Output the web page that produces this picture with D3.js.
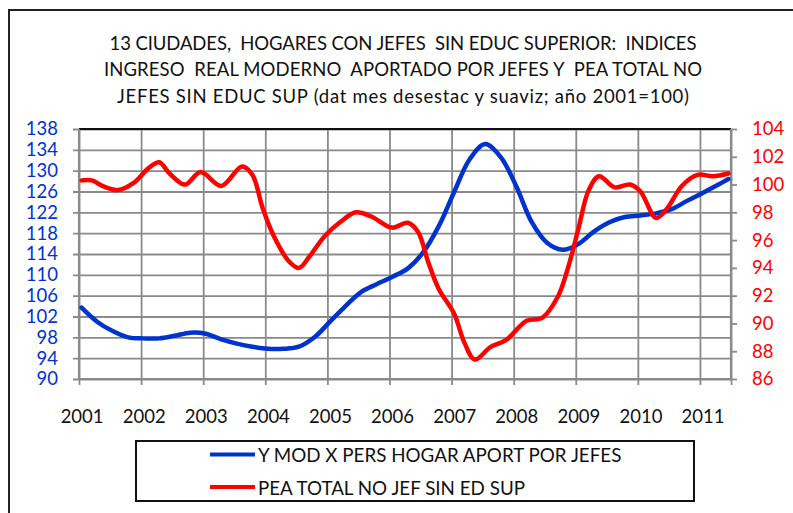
<!DOCTYPE html>
<html>
<head>
<meta charset="utf-8">
<script src="https://cdn.jsdelivr.net/npm/d3@7"></script>
<style>
  body { margin: 0; background: #fff; }
  svg text { font-family: Lato, "Open Sans", sans-serif; white-space: pre; }
</style>
</head>
<body>
<svg id="canvas"></svg>
<script>
const TITLE_LINES = [
    "13 CIUDADES,  HOGARES CON JEFES  SIN EDUC SUPERIOR:  INDICES",
    "INGRESO  REAL MODERNO  APORTADO POR JEFES Y  PEA TOTAL NO",
    "JEFES SIN EDUC SUP (dat mes desestac y suaviz; año 2001=100)"
]
const TITLE_WIDTHS = [587, 598, 572];

const YEARS = ["2001", "2002", "2003", "2004", "2005", "2006", "2007", "2008", "2009", "2010", "2011"];
const LEFT_TICKS = [90, 94, 98, 102, 106, 110, 114, 118, 122, 126, 130, 134, 138];
const RIGHT_TICKS = [86, 88, 90, 92, 94, 96, 98, 100, 102, 104];

// month index 0 = Jan 2001
const BLUE_MONTHS = [0, 3, 6, 9, 12, 15, 18, 21, 24, 27, 30, 33, 36, 39, 42, 45, 48, 51, 54, 57, 60,
    63, 66, 69, 72, 75, 78, 81, 84, 87, 90, 93, 96, 99, 102, 105, 108, 111, 114, 117, 120, 123, 125];
const BLUE_VALUES = [103.7, 101.0, 99.2, 98.0, 97.8, 97.8, 98.3, 98.9, 98.7, 97.6, 96.8, 96.2, 95.8, 95.8,
    96.2, 98.0, 101.0, 104.0, 106.7, 108.2, 109.6, 111.2, 114.3, 119.3, 125.9, 132.2, 135.1, 132.6,
    127.0, 120.1, 116.1, 114.8, 115.9, 118.3, 120.1, 121.1, 121.4, 121.8, 122.6, 124.2, 125.7, 127.3, 128.4];

const RED_MONTHS = [0, 2, 4, 7, 10, 13, 15, 17, 20, 23, 27, 31, 33, 35, 37, 40, 42, 44, 47, 50, 53, 56,
    60, 63, 65, 67, 69, 72, 74, 76, 79, 82, 86, 89, 92, 94, 96, 98, 100, 103, 106, 108, 111, 113, 116,
    119, 122, 125];
const RED_VALUES = [100.3, 100.3, 99.9, 99.6, 100.1, 101.2, 101.6, 100.8, 100.0, 100.9, 99.9, 101.3, 100.7,
    98.3, 96.4, 94.5, 94.0, 94.8, 96.3, 97.3, 98.0, 97.7, 96.9, 97.25, 96.6, 94.4, 92.5, 90.7, 88.6, 87.4,
    88.3, 88.8, 90.2, 90.4, 91.9, 94.0, 96.8, 99.6, 100.6, 99.8, 100.0, 99.5, 97.6, 98.2, 99.9, 100.7,
    100.6, 100.8];

const SERIES_NAMES = ["Y MOD X PERS HOGAR APORT POR JEFES", "PEA TOTAL NO JEF SIN ED SUP"];
const BLUE = "#0033CC";
const RED = "#FF0000";
const GRID = "#8a8a8a";

const width = 793;
const height = 513;
const plotLeft = 79;
const plotRight = 731;
const plotTop = 129;
const plotBottom = 379;
const fontSize = 18.5;

const svg = d3.select("#canvas")
    .attr("width", width)
    .attr("height", height);

// outer frame
svg.append("rect")
    .attr("x", 9).attr("y", 10)
    .attr("width", 800).attr("height", 600)
    .attr("fill", "#fff")
    .attr("stroke", "#222")
    .attr("stroke-width", 2);

// title
svg.append("g").selectAll("text")
    .data(TITLE_LINES)
    .enter()
    .append("text")
    .attr("x", 403)
    .attr("y", (d, i) => 49.5 + i * 26.5)
    .attr("text-anchor", "middle")
    .attr("font-size", fontSize)
    .attr("textLength", (d, i) => TITLE_WIDTHS[i])
    .attr("fill", "#111")
    .text(d => d);

const xScale = d3.scaleLinear().domain([-0.5, 125.5]).range([plotLeft, plotRight]);
const yLeft = d3.scaleLinear().domain([90, 138]).range([plotBottom, plotTop]);
const yRight = d3.scaleLinear().domain([86, 104]).range([plotBottom, plotTop]);

const yearBounds = YEARS.map((y, i) => i * 12 - 0.5).concat([125.5]);

// horizontal grid + left ticks
const hGrid = svg.append("g")
    .attr("transform", `translate(${plotRight}, 0)`)
    .call(d3.axisLeft(yLeft).tickValues(LEFT_TICKS).tickSize(plotRight - plotLeft + 6).tickFormat(""));
hGrid.select(".domain").remove();
hGrid.selectAll("line").attr("stroke", GRID).attr("stroke-width", 1.8);

// vertical grid + bottom ticks
const vGrid = svg.append("g")
    .attr("transform", `translate(0, ${plotTop})`)
    .call(d3.axisBottom(xScale).tickValues(yearBounds).tickSize(plotBottom - plotTop + 6).tickFormat(""));
vGrid.select(".domain").remove();
vGrid.selectAll("line").attr("stroke", GRID).attr("stroke-width", 1.8);

// right ticks
const rTicks = svg.append("g")
    .attr("transform", `translate(${plotRight}, 0)`)
    .call(d3.axisRight(yRight).tickValues(RIGHT_TICKS).tickSize(6).tickPadding(15)
        .tickFormat(d => d));
rTicks.select(".domain").remove();
rTicks.selectAll("line").attr("stroke", GRID).attr("stroke-width", 1.8);
rTicks.selectAll("text")
    .attr("fill", RED)
    .attr("font-size", fontSize)
    .attr("font-family", null);

// left labels
const lLabels = svg.append("g")
    .attr("transform", `translate(${plotLeft}, 0)`)
    .call(d3.axisLeft(yLeft).tickValues(LEFT_TICKS).tickSize(0).tickPadding(21));
lLabels.select(".domain").remove();
lLabels.selectAll("text")
    .attr("fill", BLUE)
    .attr("font-size", fontSize)
    .attr("font-family", null);

// year labels
const xLabels = svg.append("g")
    .attr("transform", `translate(0, ${plotBottom})`)
    .call(d3.axisBottom(xScale).tickValues(YEARS.map((y, i) => i * 12)).tickSize(0).tickPadding(31)
        .tickFormat((d, i) => YEARS[i]));
xLabels.select(".domain").remove();
xLabels.selectAll("text")
    .attr("fill", "#111")
    .attr("font-size", fontSize)
    .attr("font-family", null);

// axis lines
svg.append("line")
    .attr("x1", plotLeft).attr("x2", plotRight).attr("y1", plotTop).attr("y2", plotTop)
    .attr("stroke", "#111").attr("stroke-width", 2);
[[plotLeft, plotLeft, plotTop, plotBottom], [plotRight, plotRight, plotTop, plotBottom],
 [plotLeft, plotRight, plotBottom, plotBottom]].forEach(c => {
    svg.append("line")
        .attr("x1", c[0]).attr("x2", c[1]).attr("y1", c[2]).attr("y2", c[3])
        .attr("stroke", GRID).attr("stroke-width", 2.2);
});

// series
const blueLine = d3.line()
    .x(d => xScale(d[0]))
    .y(d => yLeft(d[1]))
    .curve(d3.curveCatmullRom.alpha(0.5));
const redLine = d3.line()
    .x(d => xScale(d[0]))
    .y(d => yRight(d[1]))
    .curve(d3.curveCatmullRom.alpha(0.5));

svg.append("path")
    .datum(BLUE_MONTHS.map((m, i) => [m, BLUE_VALUES[i]]))
    .attr("d", blueLine)
    .attr("fill", "none")
    .attr("stroke", BLUE)
    .attr("stroke-width", 4.5)
    .attr("stroke-linejoin", "round")
    .attr("stroke-linecap", "round");

svg.append("path")
    .datum(RED_MONTHS.map((m, i) => [m, RED_VALUES[i]]))
    .attr("d", redLine)
    .attr("fill", "none")
    .attr("stroke", RED)
    .attr("stroke-width", 4.5)
    .attr("stroke-linejoin", "round")
    .attr("stroke-linecap", "round");

// legend
svg.append("rect")
    .attr("x", 136).attr("y", 441)
    .attr("width", 558).attr("height", 60)
    .attr("fill", "#fff")
    .attr("stroke", "#111")
    .attr("stroke-width", 2);

const legend = svg.append("g").selectAll("g")
    .data(SERIES_NAMES)
    .enter()
    .append("g")
    .attr("transform", (d, i) => `translate(0, ${454.5 + i * 32.5})`);
legend.append("line")
    .attr("x1", 210).attr("x2", 255)
    .attr("stroke", (d, i) => i === 0 ? BLUE : RED)
    .attr("stroke-width", 4);
legend.append("text")
    .attr("x", 258)
    .attr("y", 7.8)
    .attr("font-size", 18.8)
    .attr("fill", "#111")
    .text(d => d);
</script>
</body>
</html>
